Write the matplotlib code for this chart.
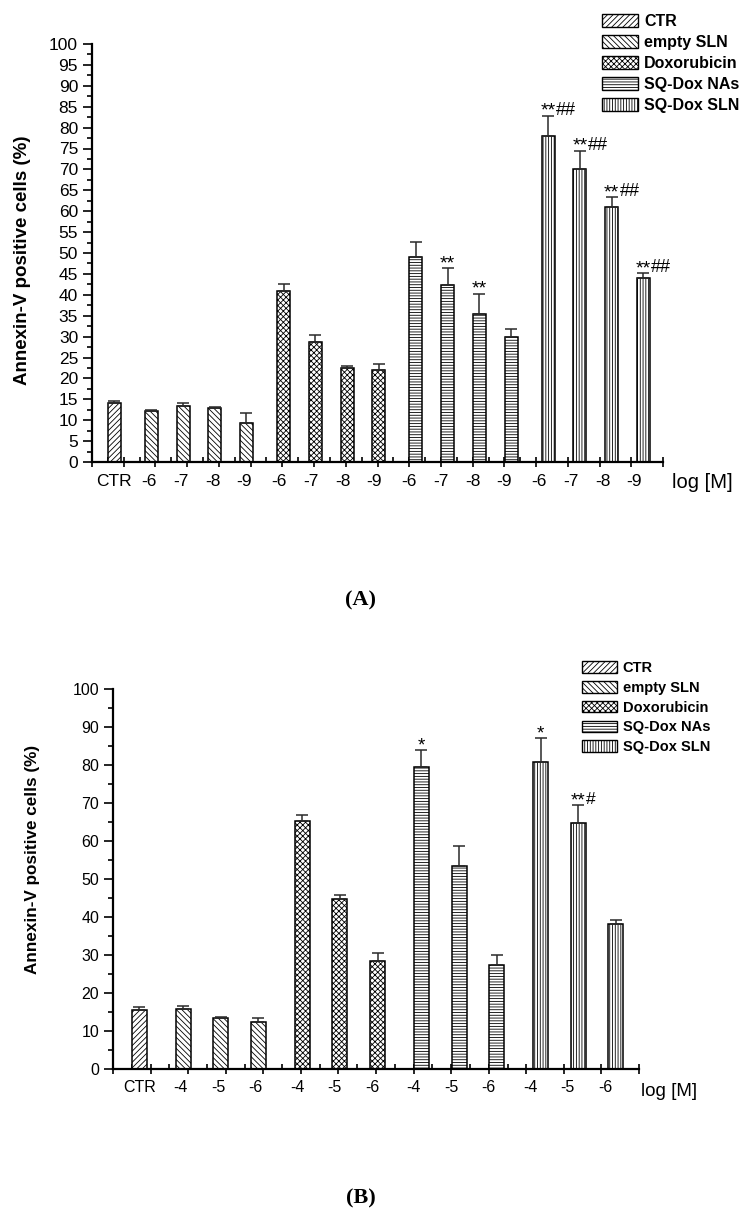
import matplotlib
matplotlib.use('Agg')

import numpy as np
import matplotlib.pyplot as plt
from matplotlib.patches import Patch
from matplotlib.ticker import MultipleLocator

plt.rcParams['font.family'] = ['Liberation Sans', 'DejaVu Sans']
plt.rcParams['hatch.linewidth'] = 0.6

# legend groups
groups = ['CTR', 'empty SLN', 'Doxorubicin', 'SQ-Dox NAs', 'SQ-Dox SLN']
hatches = ['//////', '\\\\\\\\\\\\', 'xxxxxx', '------', '||||||']

# panel A
a_labels = ['CTR', '-6', '-7', '-8', '-9', '-6', '-7', '-8', '-9',
            '-6', '-7', '-8', '-9', '-6', '-7', '-8', '-9']
a_group = [0, 1, 1, 1, 1, 2, 2, 2, 2, 3, 3, 3, 3, 4, 4, 4, 4]
a_vals = [14.0, 12.3, 13.3, 13.0, 9.4, 40.8, 28.8, 22.6, 22.1,
          49.0, 42.3, 35.3, 30.0, 78.0, 70.0, 61.0, 43.9]
a_err = [0.7, 0.2, 0.8, 0.2, 2.4, 1.8, 1.5, 0.4, 1.4,
         3.6, 4.1, 5.0, 1.7, 4.8, 4.5, 2.3, 1.2]
a_star = ['', '', '', '', '', '', '', '', '', '', '**', '**', '', '**', '**', '**', '**']
a_hash = ['', '', '', '', '', '', '', '', '', '', '', '', '', '##', '##', '##', '##']

# panel B
b_labels = ['CTR', '-4', '-5', '-6', '-4', '-5', '-6', '-4', '-5', '-6', '-4', '-5', '-6']
b_group = [0, 1, 1, 1, 2, 2, 2, 3, 3, 3, 4, 4, 4]
b_vals = [15.6, 15.9, 13.5, 12.5, 65.2, 44.8, 28.5, 79.6, 53.5, 27.5, 80.8, 64.8, 38.2]
b_err = [0.7, 0.7, 0.3, 0.8, 1.6, 1.1, 2.0, 4.3, 5.1, 2.4, 6.2, 4.6, 1.1]
b_star = ['', '', '', '', '', '', '', '*', '', '', '*', '**', '']
b_hash = ['', '', '', '', '', '', '', '', '', '', '', '#', '']

W, H = 748, 1218
fig = plt.figure(figsize=(W / 100, H / 100), dpi=100)


def panel(rect, labels, grp, vals, errs, stars, hashes, nmax, ymaj, ymin,
          tick_fs, lab_off, logoff, width, mark_fs):
    ax = fig.add_axes(rect)
    n = len(vals)
    grp = np.array(grp)
    x = np.arange(n) + 0.7 + 0.17 * grp
    for i in range(n):
        ax.bar(x[i], vals[i], width=width, color='white', edgecolor='black',
               linewidth=1.1, hatch=hatches[grp[i]], zorder=2)
    ax.errorbar(x, vals, yerr=[np.zeros(n), errs], fmt='none', ecolor='#2a2a2a',
                elinewidth=1.1, capsize=4.5, capthick=1.1, zorder=3)
    for i in range(n):
        top = vals[i] + errs[i]
        if stars[i]:
            ax.annotate(stars[i], xy=(x[i], top), xytext=(0, 0), textcoords='offset pixels',
                        ha='center', va='baseline', fontsize=mark_fs + 1)
        if hashes[i]:
            ax.annotate(hashes[i], xy=(x[i], top), xytext=(8, 1), textcoords='offset pixels',
                        ha='left', va='baseline', fontsize=mark_fs)
    lx = x - 0.07 * grp
    for i in range(n):
        ax.annotate(labels[i], xy=(lx[i], 0), xycoords=('data', 'axes fraction'),
                    xytext=(0, -lab_off), textcoords='offset pixels',
                    ha='center', va='center', fontsize=tick_fs)
    ax.annotate('log [M]', xy=(nmax, 0), xycoords=('data', 'axes fraction'),
                xytext=logoff, textcoords='offset pixels',
                ha='left', va='center', fontsize=tick_fs + 2)

    ax.set_xlim(0, nmax)
    ax.set_ylim(0, 100)
    ax.xaxis.set_major_locator(MultipleLocator(1))
    ax.xaxis.set_minor_locator(MultipleLocator(0.5))
    ax.yaxis.set_major_locator(MultipleLocator(ymaj))
    ax.yaxis.set_minor_locator(MultipleLocator(ymin))
    ax.spines['top'].set_visible(False)
    ax.spines['right'].set_visible(False)
    ax.spines['left'].set_linewidth(1.6)
    ax.spines['bottom'].set_linewidth(1.6)
    ax.tick_params(axis='y', which='major', direction='out', length=6.5, width=1.2,
                   labelsize=tick_fs, pad=3.5)
    ax.tick_params(axis='y', which='minor', direction='out', length=3.3, width=1.2)
    ax.tick_params(axis='x', which='major', direction='inout', length=7, width=1.2,
                   labelbottom=False)
    ax.tick_params(axis='x', which='minor', direction='in', length=3.3, width=1.2)
    return ax


axA = panel([92 / W, 1 - 462 / H, (663 - 92) / W, (462 - 44) / H],
            a_labels, a_group, a_vals, a_err, a_star, a_hash, 18, 5, 2.5,
            12.5, 20, (9, -21), 0.41, 13)
axB = panel([113 / W, 1 - 1069 / H, (639 - 113) / W, (1069 - 689) / H],
            b_labels, b_group, b_vals, b_err, b_star, b_hash, 14, 10, 5,
            11.5, 18, (2, -23), 0.4, 12.5)

fig.text(23 / W, 1 - 260 / H, 'Annexin-V positive cells (%)', rotation=90,
         ha='center', va='center', fontsize=13.5, fontweight='bold')
fig.text(33 / W, 1 - 859 / H, 'Annexin-V positive cells (%)', rotation=90,
         ha='center', va='center', fontsize=12.3, fontweight='bold')

handles = [Patch(facecolor='white', edgecolor='black', hatch=h, label=g)
           for g, h in zip(groups, hatches)]
fig.legend(handles=handles, loc='upper left', bbox_to_anchor=(602 / W, 1 - 14 / H),
           frameon=False, borderpad=0, borderaxespad=0, handlelength=2.25,
           handleheight=0.85, handletextpad=0.4, labelspacing=0.38,
           prop={'weight': 'bold', 'size': 11.5})
fig.legend(handles=handles, loc='upper left', bbox_to_anchor=(582 / W, 1 - 661 / H),
           frameon=False, borderpad=0, borderaxespad=0, handlelength=2.4,
           handleheight=0.85, handletextpad=0.4, labelspacing=0.4,
           prop={'weight': 'bold', 'size': 10.5})

fig.text(360 / W, 1 - 600 / H, '(A)', ha='center', va='center', fontsize=16,
         fontweight='bold', family='Liberation Serif')
fig.text(361 / W, 1 - 1198 / H, '(B)', ha='center', va='center', fontsize=16,
         fontweight='bold', family='Liberation Serif')

fig.savefig('out.png', dpi=100)
